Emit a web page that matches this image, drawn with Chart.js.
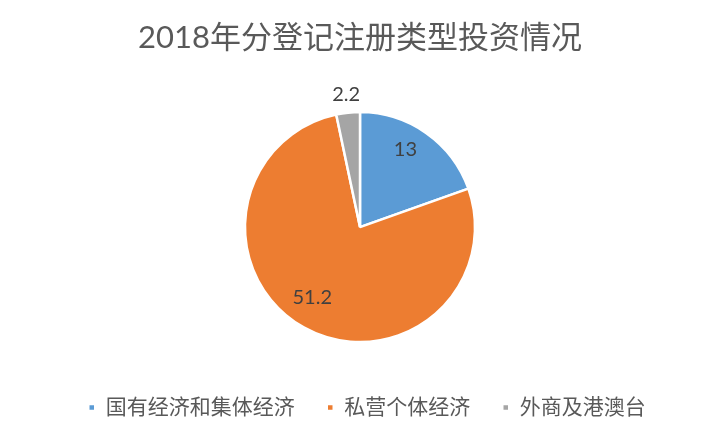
<!DOCTYPE html>
<html>
<head>
<meta charset="utf-8">
<script src="https://cdn.jsdelivr.net/npm/chart.js@4/dist/chart.umd.min.js"></script>
<style>
  html, body { margin: 0; padding: 0; background: #fff; }
  #wrap { width: 720px; height: 436px; }
</style>
</head>
<body>
<div id="wrap"><canvas id="pieChart" width="720" height="436"></canvas></div>
<script>
const categories = ['国有经济和集体经济', '私营个体经济', '外商及港澳台'];
const values = [13, 51.2, 2.2];
const colors = ['#5B9BD5', '#ED7D31', '#A5A5A5'];
const chartTitle = '2018年分登记注册类型投资情况';

const FONT = "Lato, 'Noto Sans CJK SC', sans-serif";

// etiquetas de valor: dentro da fatia, ou fora quando a fatia é pequena
const sliceLabels = {
  id: 'sliceLabels',
  afterDatasetsDraw(chart) {
    const ctx = chart.ctx;
    const meta = chart.getDatasetMeta(0);
    const total = values.reduce((a, b) => a + b, 0);
    ctx.save();
    ctx.font = '20px ' + FONT;
    ctx.fillStyle = '#404040';
    ctx.textAlign = 'center';
    ctx.textBaseline = 'middle';
    meta.data.forEach((arc, i) => {
      const p = arc.getProps(['x', 'y', 'startAngle', 'endAngle', 'outerRadius'], true);
      const mid = (p.startAngle + p.endAngle) / 2;
      const small = values[i] / total < 0.08;
      const dist = small ? p.outerRadius + 18 : p.outerRadius * 0.76;
      const x = p.x + Math.cos(mid) * dist - (small ? 0 : 5);
      const y = p.y + Math.sin(mid) * dist - (small ? 0 : 6);
      ctx.fillText(String(values[i]), x, y);
    });
    ctx.restore();
  }
};

// empurra a legenda um pouco para a direita, sem mexer na pizza
const legendNudge = {
  id: 'legendNudge',
  afterLayout(chart) {
    if (chart.legend) {
      chart.legend.left += 7;
      chart.legend.right += 7;
    }
  }
};

new Chart(document.getElementById('pieChart').getContext('2d'), {
  type: 'pie',
  data: {
    labels: categories,
    datasets: [{
      data: values,
      backgroundColor: colors,
      borderColor: '#ffffff',
      borderWidth: 2.5,
      radius: 115
    }]
  },
  options: {
    responsive: false,
    animation: false,
    layout: { padding: { top: 0, bottom: 8, left: 0, right: 0 } },
    plugins: {
      title: {
        display: true,
        text: chartTitle,
        color: '#595959',
        font: { family: FONT, size: 31, weight: 'normal' },
        padding: { top: 19, bottom: 33 }
      },
      legend: {
        position: 'bottom',
        labels: {
          color: '#595959',
          font: { family: FONT, size: 21 },
          boxWidth: 7,
          boxHeight: 7,
          padding: 32
        }
      },
      tooltip: { enabled: false }
    }
  },
  plugins: [sliceLabels, legendNudge]
});
</script>
</body>
</html>
